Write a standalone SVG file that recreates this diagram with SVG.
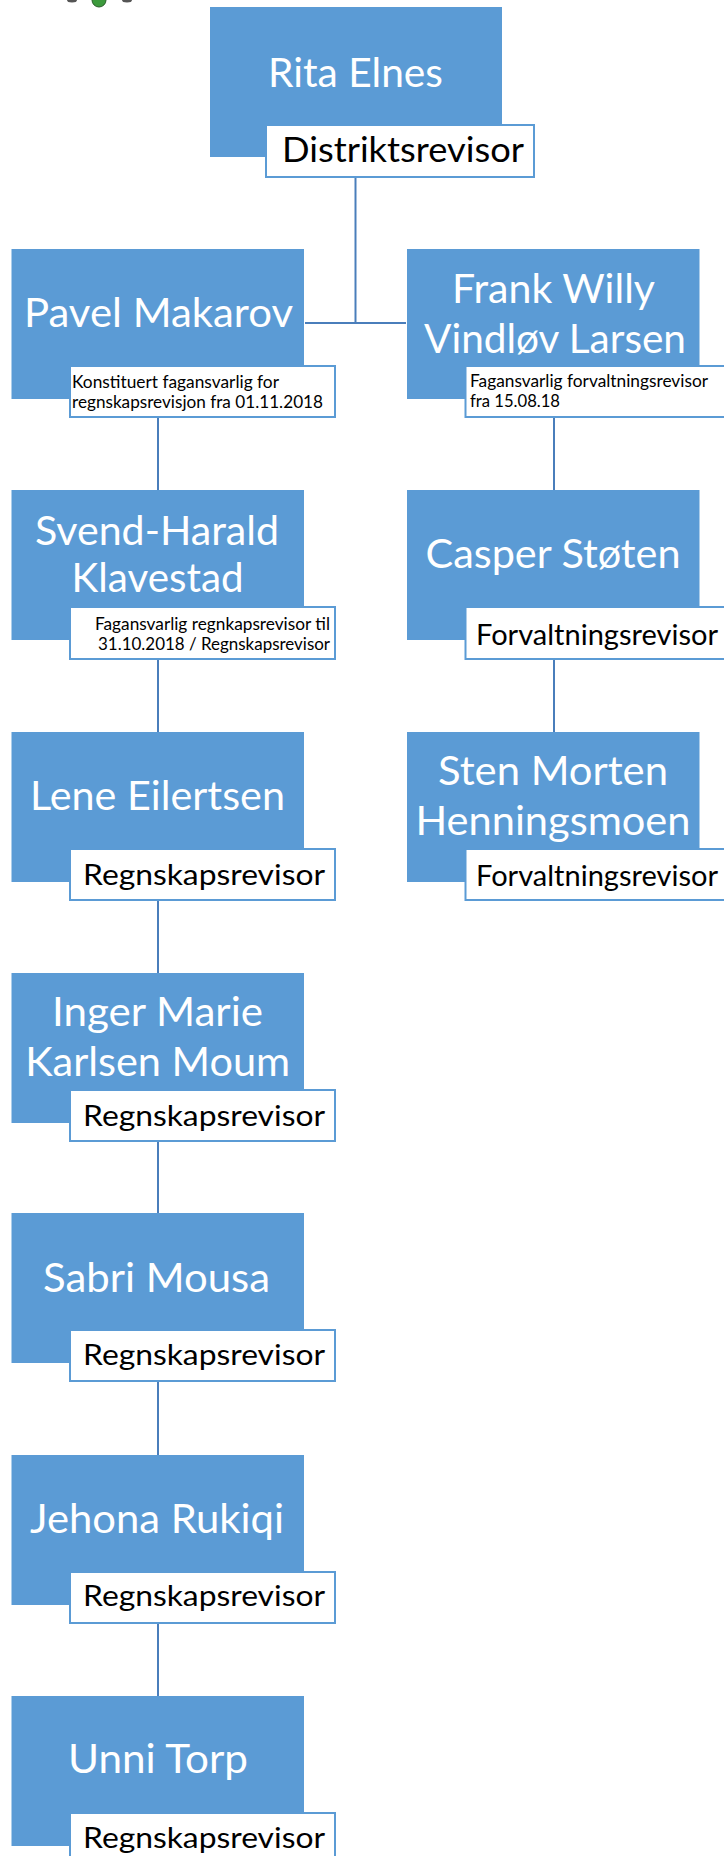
<svg xmlns="http://www.w3.org/2000/svg" width="724" height="1856" viewBox="0 0 724 1856">
<style>
.box{fill:#5B9BD5;}
.lbl{fill:#ffffff;stroke:#5B9BD5;stroke-width:2;}
.name{font-family:Lato,"Open Sans",sans-serif;font-size:40px;fill:#ffffff;text-anchor:middle;}
.role{font-family:Lato,"Open Sans",sans-serif;font-size:29px;fill:#000000;text-anchor:middle;}
.big{font-size:34px;}
.small{font-family:Lato,"Open Sans",sans-serif;font-size:18px;fill:#000000;}
.conn line{stroke:#4A7EBB;stroke-width:2;}
</style>
<rect width="724" height="1856" fill="#ffffff"/>
<g id="logo">
<ellipse cx="72" cy="0" rx="5" ry="2.5" fill="#555"/>
<circle cx="99" cy="0" r="7" fill="#3c9a3c" stroke="#2b5d2b" stroke-width="1"/>
<ellipse cx="127" cy="0" rx="5" ry="2.5" fill="#555"/>
</g>
<g class="conn" id="connectors">
<line x1="355.5" y1="177" x2="355.5" y2="323"/>
<line x1="305" y1="323" x2="406" y2="323"/>
<line x1="158" y1="417" x2="158" y2="490"/>
<line x1="158" y1="659" x2="158" y2="732"/>
<line x1="158" y1="900" x2="158" y2="973"/>
<line x1="158" y1="1141" x2="158" y2="1213"/>
<line x1="158" y1="1381" x2="158" y2="1455"/>
<line x1="158" y1="1623" x2="158" y2="1696"/>
<line x1="554" y1="417" x2="554" y2="490"/>
<line x1="554" y1="659" x2="554" y2="732"/>
</g>
<g id="rita">
<rect class="box" x="210" y="7" width="292" height="150"/>
<text class="name" x="355.5" y="87" textLength="175" lengthAdjust="spacingAndGlyphs">Rita Elnes</text>
<rect class="lbl" x="266" y="125" width="268" height="52"/>
<text class="role big" x="403" y="162" textLength="242" lengthAdjust="spacingAndGlyphs">Distriktsrevisor</text>
</g>
<g id="pavel">
<rect class="box" x="11.5" y="249" width="292.5" height="150"/>
<text class="name" x="158.5" y="327" textLength="269" lengthAdjust="spacingAndGlyphs">Pavel Makarov</text>
<rect class="lbl" x="70" y="366" width="265" height="51"/>
<text class="small" x="72" y="388" textLength="207" lengthAdjust="spacingAndGlyphs">Konstituert fagansvarlig for</text>
<text class="small" x="72" y="408" textLength="251" lengthAdjust="spacingAndGlyphs">regnskapsrevisjon fra 01.11.2018</text>
</g>
<g id="frank">
<rect class="box" x="407" y="249" width="292.5" height="150"/>
<text class="name" x="553.5" y="303" textLength="203" lengthAdjust="spacingAndGlyphs">Frank Willy</text>
<text class="name" x="555" y="353" textLength="262" lengthAdjust="spacingAndGlyphs">Vindløv Larsen</text>
<rect class="lbl" x="465.5" y="366" width="265" height="51"/>
<text class="small" x="470" y="387" textLength="238" lengthAdjust="spacingAndGlyphs">Fagansvarlig forvaltningsrevisor</text>
<text class="small" x="470" y="407" textLength="90" lengthAdjust="spacingAndGlyphs">fra 15.08.18</text>
</g>
<g id="svend">
<rect class="box" x="11.5" y="490" width="292.5" height="150"/>
<text class="name" x="157" y="545" textLength="244" lengthAdjust="spacingAndGlyphs">Svend-Harald</text>
<text class="name" x="157.6" y="592" textLength="172" lengthAdjust="spacingAndGlyphs">Klavestad</text>
<rect class="lbl" x="70" y="607" width="265" height="52"/>
<text class="small" x="330" y="630" text-anchor="end" textLength="235" lengthAdjust="spacingAndGlyphs">Fagansvarlig regnkapsrevisor til</text>
<text class="small" x="330" y="650" text-anchor="end" textLength="232" lengthAdjust="spacingAndGlyphs">31.10.2018 / Regnskapsrevisor</text>
</g>
<g id="casper">
<rect class="box" x="407" y="490" width="292.5" height="150"/>
<text class="name" x="553" y="568" textLength="255" lengthAdjust="spacingAndGlyphs">Casper Støten</text>
<rect class="lbl" x="465.5" y="607" width="265" height="52"/>
<text class="role" x="597" y="645" textLength="242" lengthAdjust="spacingAndGlyphs">Forvaltningsrevisor</text>
</g>
<g id="lene">
<rect class="box" x="11.5" y="732" width="292.5" height="150"/>
<text class="name" x="157.5" y="810" textLength="255" lengthAdjust="spacingAndGlyphs">Lene Eilertsen</text>
<rect class="lbl" x="70" y="849" width="265" height="51"/>
<text class="role" x="204" y="885" textLength="242" lengthAdjust="spacingAndGlyphs">Regnskapsrevisor</text>
</g>
<g id="sten">
<rect class="box" x="407" y="732" width="292.5" height="150"/>
<text class="name" x="553" y="785" textLength="230" lengthAdjust="spacingAndGlyphs">Sten Morten</text>
<text class="name" x="553" y="835" textLength="275" lengthAdjust="spacingAndGlyphs">Henningsmoen</text>
<rect class="lbl" x="465.5" y="849" width="265" height="51"/>
<text class="role" x="597" y="886" textLength="242" lengthAdjust="spacingAndGlyphs">Forvaltningsrevisor</text>
</g>
<g id="inger">
<rect class="box" x="11.5" y="973" width="292.5" height="150"/>
<text class="name" x="157.5" y="1026" textLength="211" lengthAdjust="spacingAndGlyphs">Inger Marie</text>
<text class="name" x="157.7" y="1076" textLength="265" lengthAdjust="spacingAndGlyphs">Karlsen Moum</text>
<rect class="lbl" x="70" y="1090" width="265" height="51"/>
<text class="role" x="204" y="1126" textLength="242" lengthAdjust="spacingAndGlyphs">Regnskapsrevisor</text>
</g>
<g id="sabri">
<rect class="box" x="11.5" y="1213" width="292.5" height="150"/>
<text class="name" x="156.5" y="1292" textLength="227" lengthAdjust="spacingAndGlyphs">Sabri Mousa</text>
<rect class="lbl" x="70" y="1330" width="265" height="51"/>
<text class="role" x="204" y="1365" textLength="242" lengthAdjust="spacingAndGlyphs">Regnskapsrevisor</text>
</g>
<g id="jehona">
<rect class="box" x="11.5" y="1455" width="292.5" height="150"/>
<text class="name" x="157" y="1533" textLength="254" lengthAdjust="spacingAndGlyphs">Jehona Rukiqi</text>
<rect class="lbl" x="70" y="1572" width="265" height="51"/>
<text class="role" x="204" y="1606" textLength="242" lengthAdjust="spacingAndGlyphs">Regnskapsrevisor</text>
</g>
<g id="unni">
<rect class="box" x="11.5" y="1696" width="292.5" height="150"/>
<text class="name" x="158" y="1773" textLength="180" lengthAdjust="spacingAndGlyphs">Unni Torp</text>
<rect class="lbl" x="70" y="1813" width="265" height="51"/>
<text class="role" x="204" y="1848" textLength="242" lengthAdjust="spacingAndGlyphs">Regnskapsrevisor</text>
</g>
</svg>
